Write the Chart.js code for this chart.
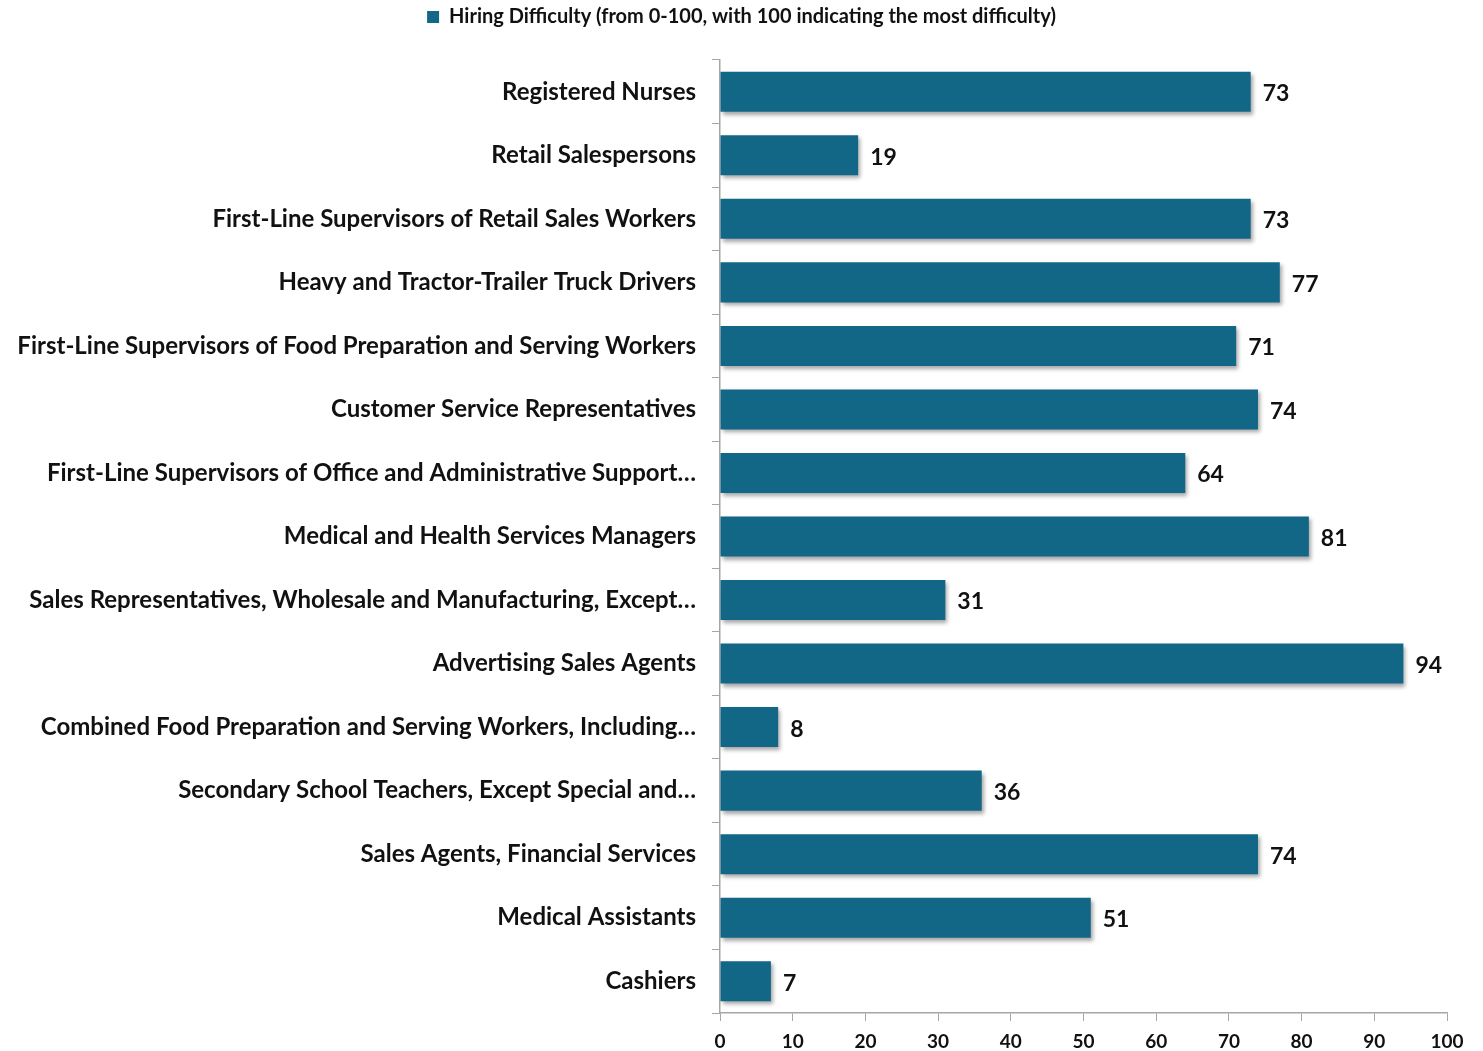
<!DOCTYPE html>
<html>
<head>
<meta charset="utf-8">
<script src="https://cdn.jsdelivr.net/npm/chart.js@4.4.0/dist/chart.umd.min.js"></script>
<style>
  html, body { margin: 0; padding: 0; background: #fff; }
  #wrap { width: 1483px; height: 1051px; }
</style>
</head>
<body>
<div id="wrap"><canvas id="chartroot" width="1483" height="1051"></canvas></div>
<script>
const occupations = [
    'Registered Nurses',
    'Retail Salespersons',
    'First-Line Supervisors of Retail Sales Workers',
    'Heavy and Tractor-Trailer Truck Drivers',
    'First-Line Supervisors of Food Preparation and Serving Workers',
    'Customer Service Representatives',
    'First-Line Supervisors of Office and Administrative Support…',
    'Medical and Health Services Managers',
    'Sales Representatives, Wholesale and Manufacturing, Except…',
    'Advertising Sales Agents',
    'Combined Food Preparation and Serving Workers, Including…',
    'Secondary School Teachers, Except Special and…',
    'Sales Agents, Financial Services',
    'Medical Assistants',
    'Cashiers'
];
const difficulty = [73, 19, 73, 77, 71, 74, 64, 81, 31, 94, 8, 36, 74, 51, 7];
const seriesName = 'Hiring Difficulty (from 0-100, with 100 indicating the most difficulty)';

const FONT = 'Lato, "Open Sans", sans-serif';

// value labels at the end of each bar
const valueLabels = {
    id: 'valueLabels',
    afterDatasetsDraw(chart) {
        const ctx = chart.ctx;
        const meta = chart.getDatasetMeta(0);
        ctx.save();
        ctx.font = 'bold 23px ' + FONT;
        ctx.fillStyle = '#111';
        ctx.textAlign = 'left';
        ctx.textBaseline = 'middle';
        meta.data.forEach((bar, i) => {
            ctx.fillText(String(difficulty[i]), bar.x + 12, bar.y + 2);
        });
        ctx.restore();
    }
};

// small drop shadow under bars
const barShadow = {
    id: 'barShadow',
    beforeDatasetDraw(chart) {
        const ctx = chart.ctx;
        ctx.save();
        ctx.shadowColor = 'rgba(0,0,0,0.35)';
        ctx.shadowBlur = 4;
        ctx.shadowOffsetX = 2;
        ctx.shadowOffsetY = 3;
    },
    afterDatasetDraw(chart) {
        chart.ctx.restore();
    }
};

// fixed legend band height, legend centred on the whole canvas
const legendBox = {
    id: 'legendBox',
    beforeInit(chart) {
        const fit = chart.legend.fit;
        chart.legend.fit = function () {
            fit.bind(chart.legend)();
            this.height = 60;
        };
    },
    afterLayout(chart) {
        chart.legend.left = 0;
        chart.legend.right = chart.width;
        chart.legend.width = chart.width;
    }
};

new Chart(document.getElementById('chartroot'), {
    type: 'bar',
    data: {
        labels: occupations,
        datasets: [{
            label: seriesName,
            data: difficulty,
            backgroundColor: '#126787',
            borderWidth: 0,
            barPercentage: 0.63,
            categoryPercentage: 1
        }]
    },
    options: {
        indexAxis: 'y',
        responsive: false,
        animation: false,
        layout: { padding: { left: 0, right: 36, top: 0, bottom: 0 } },
        plugins: {
            legend: {
                position: 'top',
                labels: {
                    boxWidth: 12,
                    boxHeight: 12,
                    padding: 7,
                    color: '#111',
                    font: { family: FONT, size: 20, weight: 'bold' }
                }
            },
            tooltip: { enabled: false }
        },
        scales: {
            x: {
                min: 0,
                max: 100,
                ticks: {
                    stepSize: 10,
                    color: '#111',
                    padding: 9,
                    font: { family: FONT, size: 19, weight: 'bold' }
                },
                grid: { drawOnChartArea: false, tickLength: 8, color: '#a6a6a6' },
                border: { color: '#a6a6a6', width: 1.5 },
                afterFit: (scale) => { scale.height = 38; }
            },
            y: {
                ticks: {
                    color: '#111',
                    padding: 16,
                    autoSkip: false,
                    font: { family: FONT, size: 24, weight: 'bold' }
                },
                grid: { offset: true, drawOnChartArea: false, tickLength: 8, color: '#a6a6a6' },
                border: { color: '#a6a6a6', width: 1.5 },
                afterFit: (scale) => { scale.width = 720; }
            }
        }
    },
    plugins: [legendBox, barShadow, valueLabels]
});
</script>
</body>
</html>
